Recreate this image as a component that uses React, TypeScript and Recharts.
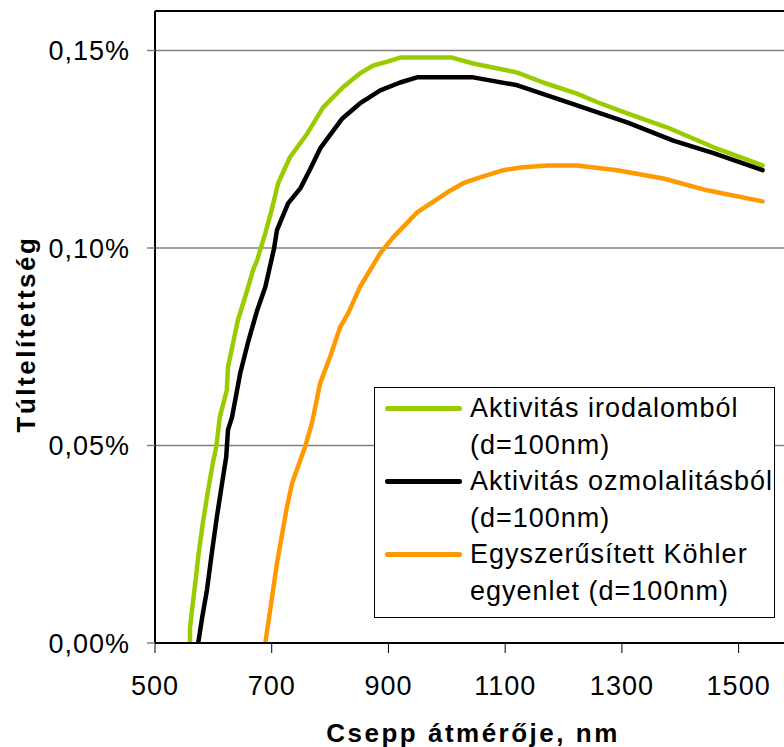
import React from 'react';
import {
  LineChart,
  Line,
  XAxis,
  YAxis,
  CartesianGrid,
  Legend,
  ReferenceLine,
} from 'recharts';

// Droplet diameter (nm) vs. supersaturation (%), three model variants.
const irodalombol: [number, number][] = [
  [560, 0], [560, 0.004], [569, 0.0152], [574, 0.0218], [582, 0.0304],
  [591, 0.0387], [599, 0.0455], [605, 0.0496], [611, 0.0572], [623, 0.064],
  [625, 0.0698], [642, 0.0817], [658, 0.0893], [668, 0.0944], [675, 0.0969],
  [680, 0.0994], [689, 0.1037], [701, 0.1103], [711, 0.1164], [731, 0.1229],
  [761, 0.129], [788, 0.1356], [822, 0.1407], [851, 0.1442], [874, 0.1462],
  [898, 0.1472], [920, 0.1482], [1009, 0.1482], [1045, 0.1467], [1079, 0.1457],
  [1121, 0.1444], [1165, 0.1419], [1223, 0.1391], [1258, 0.1369], [1309, 0.1341],
  [1378, 0.1305], [1457, 0.1255], [1541, 0.1209],
];

const ozmolalitasbol: [number, number][] = [
  [574, 0], [581, 0.0066], [589, 0.0134], [598, 0.0235], [606, 0.0319],
  [615, 0.0405], [622, 0.0471], [625, 0.0539], [632, 0.0572], [646, 0.0683],
  [659, 0.0759], [675, 0.0842], [689, 0.0901], [704, 0.0999], [709, 0.1045],
  [728, 0.1113], [749, 0.1151], [766, 0.12], [783, 0.1252], [821, 0.1328],
  [851, 0.1366], [886, 0.1399], [920, 0.1419], [949, 0.1432], [1045, 0.1432],
  [1121, 0.1412], [1223, 0.1361], [1309, 0.1318], [1388, 0.1272], [1457, 0.124],
  [1541, 0.1197],
];

const kohler: [number, number][] = [
  [689, 0], [709, 0.0202], [726, 0.0344], [735, 0.0405], [757, 0.0496],
  [769, 0.0557], [783, 0.0658], [800, 0.0724], [817, 0.0799], [831, 0.0835],
  [851, 0.0901], [886, 0.0987], [908, 0.1027], [949, 0.109], [1001, 0.1141],
  [1028, 0.1164], [1057, 0.1179], [1097, 0.1197], [1126, 0.1204], [1172, 0.1209],
  [1223, 0.1209], [1292, 0.1197], [1371, 0.1176], [1446, 0.1146], [1541, 0.1118],
];

const seriesNames = [
  'Aktivitás irodalomból\n(d=100nm)',
  'Aktivitás ozmolalitásból\n(d=100nm)',
  'Egyszerűsített Köhler\negyenlet (d=100nm)',
];
const seriesColors = ['#99CC00', '#000000', '#FF9900'];
const seriesPoints = [irodalombol, ozmolalitasbol, kohler];

const xTicks = [500, 700, 900, 1100, 1300, 1500];
const yTicks = [0, 0.05, 0.1, 0.15];

const xTitle = 'Csepp átmérője, nm';
const yTitle = 'Túltelítettség';

const FONT = "'Liberation Sans', Arial, sans-serif";

const toRows = (pts: [number, number][]) => pts.map(([d, s]) => ({ d, s }));

const formatPercent = (v: number) => v.toFixed(2).replace('.', ',') + '%';

const XTitle = (props: any) => {
  const vb = props.viewBox ?? { x: 155, y: 643, width: 642, height: 104 };
  return (
    <text
      x={vb.x + vb.width / 2 - 3}
      y={vb.y + 99}
      textAnchor="middle"
      fontFamily={FONT}
      fontSize={26}
      fontWeight="bold"
      letterSpacing={2.5}
      fill="#000"
    >
      {xTitle}
    </text>
  );
};

const YTitle = (props: any) => {
  const vb = props.viewBox ?? { x: 0, y: 11, width: 155, height: 632 };
  const cx = vb.x + 35;
  const cy = vb.y + vb.height / 2 + 7;
  return (
    <text
      x={cx}
      y={cy}
      transform={`rotate(-90, ${cx}, ${cy})`}
      textAnchor="middle"
      fontFamily={FONT}
      fontSize={26}
      fontWeight="bold"
      letterSpacing={2.5}
      fill="#000"
    >
      {yTitle}
    </text>
  );
};

const LegendBox = (props: any) => {
  const payload: any[] = props.payload ?? [];
  return (
    <div
      style={{
        boxSizing: 'border-box',
        width: '100%',
        height: '100%',
        border: '1px solid #000',
        background: '#fff',
        padding: '2px 0 0 10px',
        fontFamily: FONT,
        fontSize: 27,
        letterSpacing: 1,
        color: '#000',
      }}
    >
      {payload.map((entry: any, i: number) => (
        <div key={i} style={{ display: 'flex', alignItems: 'flex-start' }}>
          <div
            style={{
              width: 77,
              height: 4.5,
              borderRadius: 2.25,
              background: entry.color,
              marginTop: 16,
              marginRight: 8,
              flex: 'none',
            }}
          />
          <div style={{ whiteSpace: 'pre-line', lineHeight: '36.5px' }}>{entry.value}</div>
        </div>
      ))}
    </div>
  );
};

export default function App() {
  return (
    <div
      style={{
        position: 'fixed',
        left: 0,
        top: 0,
        width: 784,
        height: 747,
        overflow: 'hidden',
        background: '#fff',
      }}
    >
      <LineChart
        width={812}
        height={747}
        margin={{ top: 11, right: 15, bottom: 0, left: 0 }}
        style={{ fontFamily: FONT }}
      >
        <CartesianGrid horizontal vertical={false} stroke="#808080" strokeWidth={1.5} />
        <XAxis
          type="number"
          dataKey="d"
          domain={[500, 1600]}
          ticks={xTicks}
          allowDataOverflow
          height={104}
          tickSize={10}
          tickMargin={23}
          axisLine={{ stroke: '#000', strokeWidth: 2 }}
          tickLine={{ stroke: '#000', strokeWidth: 1 }}
          tick={{ fill: '#000', fontSize: 27, fontFamily: FONT, letterSpacing: 1 }}
          label={<XTitle />}
        />
        <YAxis
          type="number"
          domain={[0, 0.16]}
          ticks={yTicks}
          allowDataOverflow
          width={155}
          tickSize={8}
          tickMargin={17}
          tickFormatter={formatPercent}
          axisLine={{ stroke: '#000', strokeWidth: 2 }}
          tickLine={{ stroke: '#808080', strokeWidth: 1.5 }}
          tick={{ fill: '#000', fontSize: 27, fontFamily: FONT, letterSpacing: 1 }}
          label={<YTitle />}
        />
        <ReferenceLine y={0.16} stroke="#000" strokeWidth={2} />
        {seriesPoints.map((pts, i) => (
          <Line
            key={seriesNames[i]}
            data={toRows(pts)}
            dataKey="s"
            name={seriesNames[i]}
            type="linear"
            stroke={seriesColors[i]}
            strokeWidth={4.5}
            strokeLinejoin="round"
            strokeLinecap="round"
            dot={false}
            activeDot={false}
            isAnimationActive={false}
          />
        ))}
        <Legend
          layout="horizontal"
          verticalAlign="middle"
          align="center"
          content={<LegendBox />}
          wrapperStyle={{ left: 374, top: 387, width: 401, height: 231 }}
        />
      </LineChart>
    </div>
  );
}
